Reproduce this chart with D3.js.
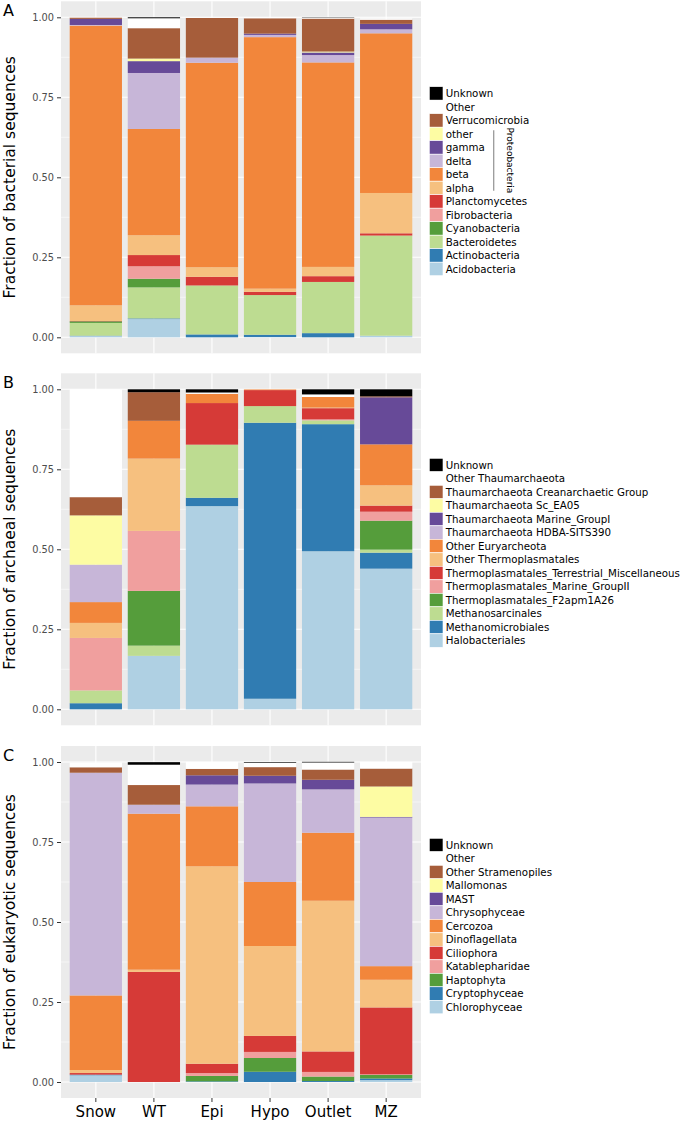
<!DOCTYPE html>
<html><head><meta charset="utf-8">
<script src="https://cdn.jsdelivr.net/npm/d3@7"></script>
<style>body{margin:0;background:#fff}svg{display:block;font-family:"DejaVu Sans",sans-serif}</style>
</head><body>
<svg id="chart" width="685" height="1122"></svg>
<script>
// ---------------- data ----------------
const sites = ["Snow", "WT", "Epi", "Hypo", "Outlet", "MZ"];
const yTicks = [0, 0.25, 0.5, 0.75, 1];

// Panel A: bacteria (legend order, top of stack first)
const bacTaxa = ["Unknown","Other","Verrucomicrobia","other","gamma","delta","beta","alpha",
  "Planctomycetes","Fibrobacteria","Cyanobacteria","Bacteroidetes","Actinobacteria","Acidobacteria"];
const bacColors = ["#000000","#ffffff","#a65d3a","#fdfca3","#674a98","#c7b6d8","#f2863b","#f6c07f",
  "#d63a37","#f09f9e","#559d3b","#bddc91","#307cb2","#afd0e3"];
const bacSnow   = [0, 0.001, 0.004, 0, 0.019, 0.002, 0.874, 0.049, 0.001, 0, 0.005, 0.040, 0.001, 0.004];
const bacWT     = [0.003, 0.031, 0.095, 0.008, 0.037, 0.175, 0.332, 0.062, 0.035, 0.039, 0.027, 0.097, 0.002, 0.057];
const bacEpi    = [0, 0.002, 0.124, 0, 0, 0.016, 0.639, 0.030, 0.027, 0, 0, 0.153, 0.009, 0];
const bacHypo   = [0, 0.003, 0.048, 0, 0.004, 0.007, 0.786, 0.010, 0.010, 0, 0, 0.124, 0.007, 0.001];
const bacOutlet = [0.001, 0.003, 0.103, 0.003, 0.008, 0.023, 0.639, 0.029, 0.018, 0, 0, 0.160, 0.013, 0];
const bacMZ     = [0, 0.004, 0.013, 0, 0.017, 0.0125, 0.499, 0.126, 0.007, 0, 0, 0.313, 0, 0.005];

// Panel B: archaea
const arcTaxa = ["Unknown","Other Thaumarchaeota","Thaumarchaeota Creanarchaetic Group","Thaumarchaeota Sc_EA05",
  "Thaumarchaeota Marine_GroupI","Thaumarchaeota HDBA-SITS390","Other Euryarcheota","Other Thermoplasmatales",
  "Thermoplasmatales_Terrestrial_Miscellaneous","Thermoplasmatales_Marine_GroupII","Thermoplasmatales_F2apm1A26",
  "Methanosarcinales","Methanomicrobiales","Halobacteriales"];
const arcColors = bacColors;
const arcSnow   = [0, 0.337, 0.057, 0.154, 0, 0.117, 0.065, 0.047, 0, 0.164, 0, 0.040, 0.019, 0];
const arcWT     = [0.009, 0, 0.0895, 0, 0, 0, 0.118, 0.226, 0, 0.1875, 0.171, 0.032, 0, 0.167];
const arcEpi    = [0.010, 0.004, 0, 0, 0, 0, 0.029, 0, 0.130, 0, 0, 0.166, 0.026, 0.635];
const arcHypo   = [0, 0, 0, 0, 0, 0, 0.002, 0, 0.050, 0, 0, 0.052, 0.8625, 0.033];
const arcOutlet = [0.016, 0.008, 0, 0, 0, 0, 0.033, 0.002, 0.035, 0.003, 0, 0.012, 0.397, 0.494];
const arcMZ     = [0.022, 0, 0.003, 0, 0.147, 0, 0.128, 0.0635, 0.019, 0.028, 0.0906, 0.0094, 0.050, 0.4395];

// Panel C: eukaryotes
const eukTaxa = ["Unknown","Other","Other Stramenopiles","Mallomonas","MAST","Chrysophyceae","Cercozoa",
  "Dinoflagellata","Ciliophora","Katablepharidae","Haptophyta","Cryptophyceae","Chlorophyceae"];
const eukColors = ["#000000","#ffffff","#a65d3a","#fdfca3","#674a98","#c7b6d8","#f2863b","#f6c07f",
  "#d63a37","#f09f9e","#559d3b","#307cb2","#afd0e3"];
const eukSnow   = [0, 0.015, 0.017, 0, 0, 0.696, 0.233, 0.0095, 0.005, 0, 0, 0.002, 0.021];
const eukWT     = [0.008, 0.0635, 0.0615, 0, 0, 0.028, 0.4875, 0.007, 0.344, 0, 0, 0, 0];
const eukEpi    = [0, 0.022, 0.020, 0, 0.029, 0.068, 0.1875, 0.617, 0.029, 0.009, 0.017, 0.002, 0];
const eukHypo   = [0.002, 0.014, 0.027, 0, 0.024, 0.308, 0.200, 0.281, 0.050, 0.019, 0.043, 0.032, 0];
const eukOutlet = [0.002, 0.022, 0.032, 0, 0.030, 0.1355, 0.2125, 0.471, 0.064, 0.0145, 0.014, 0.003, 0];
const eukMZ     = [0, 0.021, 0.056, 0.095, 0.002, 0.4645, 0.0425, 0.0865, 0.209, 0.002, 0.011, 0.005, 0.006];

const panels = [
  {letter:"A", title:"Fraction of bacterial sequences", taxa:bacTaxa, colors:bacColors,
   values:[bacSnow,bacWT,bacEpi,bacHypo,bacOutlet,bacMZ], y1:17.3, legendTop:86.7, bracket:["other","alpha","Proteobacteria"]},
  {letter:"B", title:"Fraction of archaeal sequences", taxa:arcTaxa, colors:arcColors,
   values:[arcSnow,arcWT,arcEpi,arcHypo,arcOutlet,arcMZ], y1:389.3, legendTop:458.3},
  {letter:"C", title:"Fraction of eukaryotic sequences", taxa:eukTaxa, colors:eukColors,
   values:[eukSnow,eukWT,eukEpi,eukHypo,eukOutlet,eukMZ], y1:762, legendTop:838.3, xAxis:true}
];

// ---------------- drawing ----------------
const svg = d3.select("#chart");
const left = 61, right = 421, unit = 320; // px per 1.0
const x = d3.scaleBand().domain(sites).range([left, right]).paddingInner(0.1).paddingOuter(0.15);

panels.forEach(p => {
  const y0 = p.y1 + unit;                   // position of 0
  const y = d3.scaleLinear().domain([-0.05, 1.05]).range([y0 + 0.05*unit, p.y1 - 0.05*unit]);
  const g = svg.append("g");
  const top = y(1.05), bot = y(-0.05);
  g.append("rect").attr("x", left).attr("y", top).attr("width", right-left).attr("height", bot-top).attr("fill", "#ebebeb");
  // minor grid
  g.selectAll(".minor").data([0.125,0.375,0.625,0.875]).join("line")
    .attr("x1", left).attr("x2", right).attr("y1", d=>y(d)).attr("y2", d=>y(d))
    .attr("stroke", "#fff").attr("stroke-width", 0.5);
  g.selectAll(".major").data(yTicks).join("line")
    .attr("x1", left).attr("x2", right).attr("y1", d=>y(d)).attr("y2", d=>y(d))
    .attr("stroke", "#fff").attr("stroke-width", 1.1);
  g.selectAll(".vgrid").data(sites).join("line")
    .attr("x1", d=>x(d)+x.bandwidth()/2).attr("x2", d=>x(d)+x.bandwidth()/2).attr("y1", top).attr("y2", bot)
    .attr("stroke", "#fff").attr("stroke-width", 1.1);

  // stacked bars
  const keysBottom = p.taxa.slice().reverse();
  const rows = sites.map((s, i) => {
    const r = {site: s};
    p.taxa.forEach((t, j) => r[t] = p.values[i][j]);
    return r;
  });
  const stacked = d3.stack().keys(keysBottom)(rows);
  const colorOf = d3.scaleOrdinal().domain(p.taxa).range(p.colors);
  g.selectAll(".layer").data(stacked).join("g")
    .attr("fill", d => colorOf(d.key))
    .selectAll("rect").data(d => d).join("rect")
    .attr("x", d => x(d.data.site)).attr("width", x.bandwidth())
    .attr("y", d => y(d[1])).attr("height", d => Math.max(0, y(d[0]) - y(d[1])));

  // y axis
  const ya = g.append("g").attr("transform", `translate(${left},0)`)
    .call(d3.axisLeft(y).tickValues(yTicks).tickFormat(d3.format(".2f")).tickSize(4).tickPadding(3));
  ya.select(".domain").remove();
  ya.selectAll(".tick line").attr("stroke", "#333").attr("stroke-width", 1);
  ya.selectAll("text").attr("fill", "#4d4d4d").style("font-size", "9.8px").style("font-family", "DejaVu Sans");

  if (p.xAxis) {
    const xa = g.append("g").attr("transform", `translate(0,${bot})`)
      .call(d3.axisBottom(x).tickSize(4).tickPadding(4));
    xa.select(".domain").remove();
    xa.selectAll(".tick line").attr("stroke", "#333");
    xa.selectAll("text").attr("fill", "#000").style("font-size", "15px").style("font-family", "DejaVu Sans");
  }

  // titles
  svg.append("text").attr("x", 3).attr("y", top + 14.5).text(p.letter)
    .style("font-size", "16px").attr("fill", "#000");
  svg.append("text").attr("transform", `translate(14.5,${(top+bot)/2}) rotate(-90)`)
    .attr("text-anchor", "middle").style("font-size", "15.5px").attr("fill", "#000").text(p.title);

  // legend
  const kh = 13.5, kx = 429.3;
  const lg = svg.append("g");
  const item = lg.selectAll(".item").data(p.taxa).join("g")
    .attr("transform", (d, i) => `translate(${kx},${p.legendTop + i*kh})`);
  item.append("rect").attr("width", 13.7).attr("height", kh)
    .attr("fill", d => colorOf(d)).attr("stroke", "#fff").attr("stroke-width", 0.6);
  item.append("text").attr("x", 16.4).attr("y", kh/2 + 3.7).text(d => d)
    .style("font-size", "10.25px").attr("fill", "#000");

  if (p.bracket) {
    const i0 = p.taxa.indexOf(p.bracket[0]), i1 = p.taxa.indexOf(p.bracket[1]);
    const ya0 = p.legendTop + i0*kh + 3, ya1 = p.legendTop + (i1+1)*kh - 4;
    lg.append("line").attr("x1", 493.7).attr("x2", 493.7).attr("y1", ya0).attr("y2", ya1)
      .attr("stroke", "#9a9a9a").attr("stroke-width", 1.3);
    lg.append("text").attr("transform", `translate(506.5,${(ya0+ya1)/2}) rotate(90)`)
      .attr("text-anchor", "middle").style("font-size", "9px").attr("fill", "#000").text(p.bracket[2]);
  }
});
</script>
</body></html>
